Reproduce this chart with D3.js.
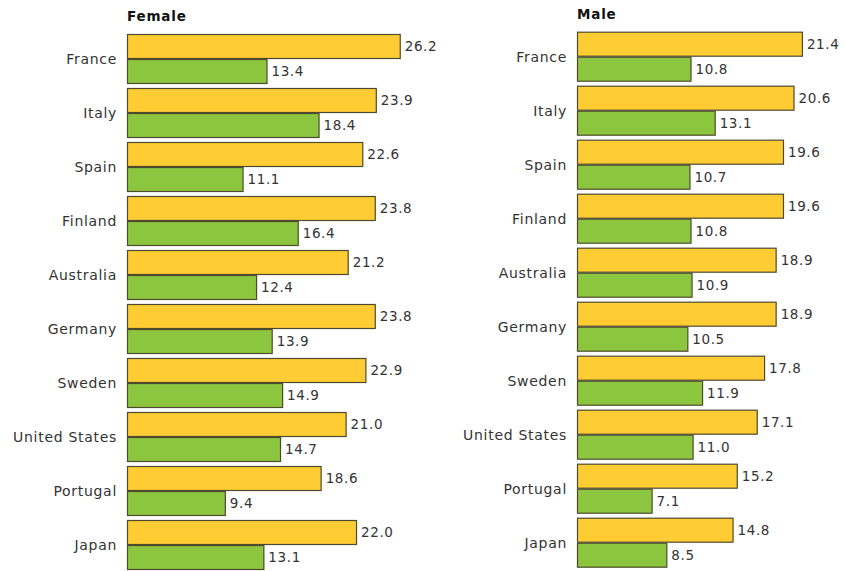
<html>
<head>
  <title>Female / Male</title>
  <script src="https://cdnjs.cloudflare.com/ajax/libs/d3/7.8.5/d3.min.js"></script>
  <style>
    body { margin: 0; background: #fff; }
    text { font-family: "DejaVu Sans", Verdana, sans-serif; }
  </style>
</head>
<body>
<script type="text/javascript">
  // categories, top to bottom
  var countries = ["France", "Italy", "Spain", "Finland", "Australia",
                   "Germany", "Sweden", "United States", "Portugal", "Japan"];

  // female: yellow (first) and green (second) bars
  var femaleA = [26.2, 23.9, 22.6, 23.8, 21.2, 23.8, 22.9, 21.0, 18.6, 22.0];
  var femaleB = [13.4, 18.4, 11.1, 16.4, 12.4, 13.9, 14.9, 14.7, 9.4, 13.1];

  // male
  var maleA = [21.4, 20.6, 19.6, 19.6, 18.9, 18.9, 17.8, 17.1, 15.2, 14.8];
  var maleB = [10.8, 13.1, 10.7, 10.8, 10.9, 10.5, 11.9, 11.0, 7.1, 8.5];

  var width = 846, height = 571;

  var svg = d3.select("body")
    .append("svg")
    .attr("width", width)
    .attr("height", height);

  function panel(title, a, b, left, top, pxPerUnit) {
    var g = svg.append("g")
      .attr("transform", "translate(" + left + "," + top + ")");

    var y = d3.scaleBand()
      .domain(countries)
      .range([0, 536])
      .paddingInner(4 / 54);

    var sub = d3.scaleBand()
      .domain(["a", "b"])
      .range([0, y.bandwidth()]);

    var x = d3.scaleLinear()
      .domain([0, 30])
      .range([0, 30 * pxPerUnit]);

    g.append("text")
      .attr("x", 0)
      .attr("y", -13)
      .style("font-size", "13.5px")
      .style("font-weight", "bold")
      .style("letter-spacing", "0.8px")
      .style("fill", "#111")
      .text(title);

    var rows = countries.map(function (c, i) {
      return { name: c, a: a[i], b: b[i] };
    });

    var grp = g.selectAll("g.row")
      .data(rows)
      .enter().append("g")
      .attr("class", "row")
      .attr("transform", function (d) { return "translate(0," + y(d.name) + ")"; });

    grp.append("text")
      .attr("x", -10)
      .attr("y", y.bandwidth() / 2)
      .attr("dy", "0.35em")
      .attr("text-anchor", "end")
      .style("font-size", "14px")
      .style("letter-spacing", "0.7px")
      .style("fill", "#333")
      .text(function (d) { return d.name; });

    ["a", "b"].forEach(function (k) {
      grp.append("rect")
        .attr("x", 0.5)
        .attr("y", function () { return sub(k) + 0.5; })
        .attr("width", function (d) { return x(d[k]); })
        .attr("height", sub.bandwidth() - 1)
        .style("fill", k === "a" ? "#ffcc33" : "#8cc63f")
        .style("stroke", "#4d4a2e")
        .style("stroke-width", 1.2);

      grp.append("text")
        .attr("x", function (d) { return x(d[k]) + 5; })
        .attr("y", function () { return sub(k) + sub.bandwidth() / 2; })
        .attr("dy", "0.35em")
        .style("font-size", "13.5px")
        .style("letter-spacing", "0.6px")
        .style("fill", "#333")
        .text(function (d) { return d3.format(".1f")(d[k]); });
    });
  }

  panel("Female", femaleA, femaleB, 127, 34, 10.41);
  panel("Male", maleA, maleB, 577, 31.7, 10.51);
</script>
</body>
</html>
